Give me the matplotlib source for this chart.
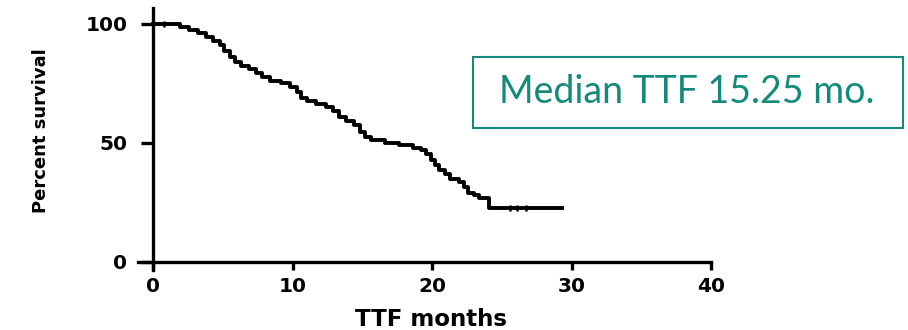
"""Kaplan-Meier style curve of time to failure (TTF)"""
import matplotlib.pyplot as plt
from matplotlib.patches import Rectangle

# step curve: event times (months) and survival after each event (%)
times = [0, 1.9, 2.6, 3.2, 3.8, 4.3, 4.8, 5.1, 5.5, 5.9, 6.3, 6.9, 7.4, 7.8,
         8.4, 9.2, 9.8, 10.3, 10.6, 11.0, 11.7, 12.4, 12.9, 13.3, 13.8, 14.4,
         14.8, 15.2, 15.6, 16.6, 17.6, 18.6, 19.2, 19.6, 19.9, 20.2, 20.5,
         20.9, 21.3, 21.9, 22.3, 22.6, 23.0, 23.4, 24.1, 29.3]
surv = [100, 98.5, 97.5, 96, 94.5, 93, 91, 88.5, 86, 84, 82.5, 81, 79.5, 77.5,
        76, 75, 73.5, 71.5, 69, 67.5, 66.5, 65, 63.5, 61, 59, 57.5,
        54.5, 52.5, 51, 50, 49, 48, 47, 45.5, 43, 40.5, 38.5,
        37, 35, 33.5, 31.5, 29, 28, 27, 22.8, 22.8]

# censored observations
censor_t = [0.8, 25.6, 26.1, 26.7]
censor_s = [100, 22.8, 22.8, 22.8]

x_ticks = [0, 10, 20, 30, 40]
y_ticks = [0, 50, 100]
note = 'Median TTF 15.25 mo.'
teal = '#138a7c'

fig = plt.figure(figsize=(9.08, 3.3), dpi=100)
ax = fig.add_axes([0.1517, 0.182, 0.6314, 0.794])

ax.step(times, surv, where='post', color='black', lw=2.8)
ax.plot(censor_t, censor_s, '|', color='black', ms=5, mew=1.8)

ax.set_xlim(-1.1, 40)
ax.set_ylim(-3.4, 106.7)

# Prism-like crossing axes
for side in ['top', 'right']:
    ax.spines[side].set_visible(False)
ax.spines['left'].set_position(('data', 0))
ax.spines['bottom'].set_position(('data', 0))
for side in ['left', 'bottom']:
    ax.spines[side].set_linewidth(2.4)

ax.set_xticks(x_ticks)
ax.set_yticks(y_ticks)
ax.tick_params(axis='y', length=8.5, width=2.4, pad=10, labelsize=14.5)
ax.tick_params(axis='x', length=6, width=2.4, pad=5, labelsize=14.5)
for lbl in ax.get_xticklabels() + ax.get_yticklabels():
    lbl.set_fontweight('bold')

ax.set_xlabel('TTF months', fontsize=16.5, fontweight='bold')
ax.set_ylabel('Percent survival', fontsize=13, fontweight='bold')
ax.xaxis.set_label_coords(0.5116, -0.145)
ax.yaxis.set_label_coords(-0.153, 0.53)

# annotation box
fig.add_artist(Rectangle((0.5209, 0.6121), 0.4736, 0.2152,
                         transform=fig.transFigure, fill=False,
                         edgecolor=teal, lw=1.5))
fig.text(0.756, 0.7197, note, color=teal, fontsize=27, family='Lato',
         ha='center', va='center')

fig.savefig('out.png', dpi=100)
